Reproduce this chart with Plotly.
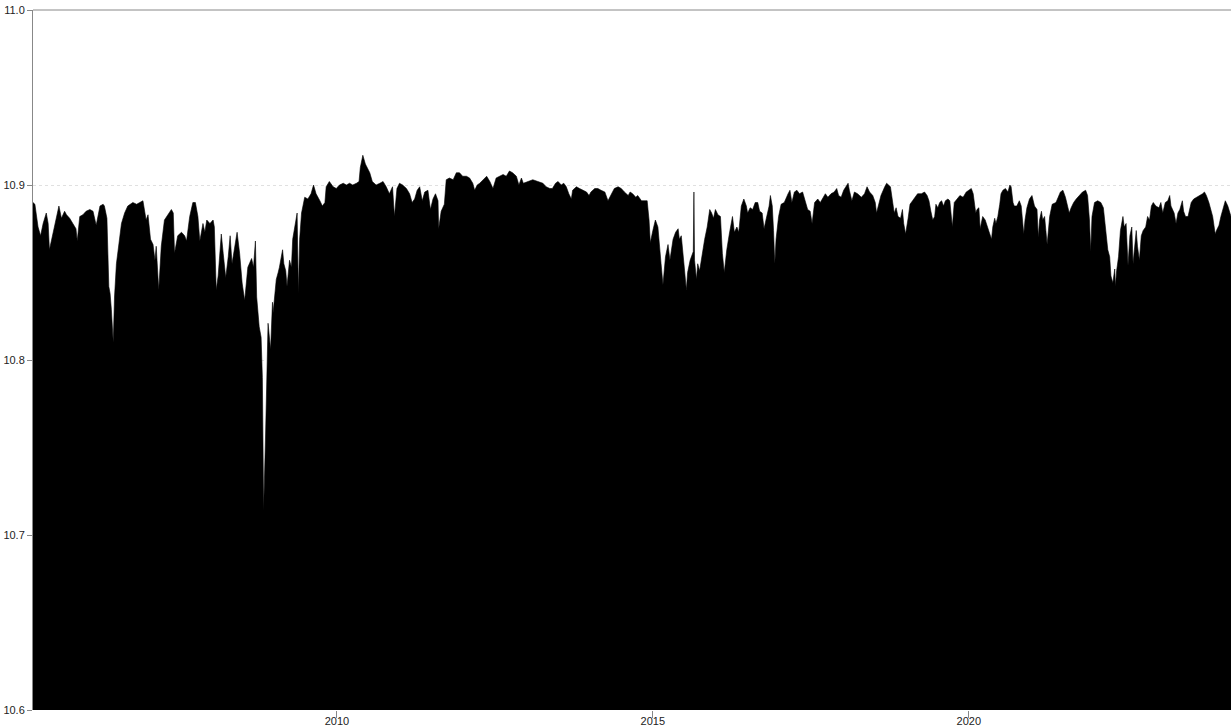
import plotly.graph_objects as go

# decimal-year positions and values
years_a = [2005.19, 2005.22, 2005.27, 2005.31, 2005.35, 2005.40, 2005.43, 2005.45, 2005.51, 2005.56,
           2005.60, 2005.64, 2005.69, 2005.72, 2005.77, 2005.82, 2005.87, 2005.89, 2005.93, 2005.98,
           2006.03, 2006.09, 2006.14, 2006.19, 2006.25, 2006.30, 2006.32, 2006.36, 2006.39, 2006.41,
           2006.43, 2006.46, 2006.48, 2006.51, 2006.55, 2006.59, 2006.64, 2006.69, 2006.77, 2006.83,
           2006.88, 2006.93, 2006.98, 2007.01, 2007.05, 2007.09, 2007.12, 2007.14, 2007.18, 2007.22,
           2007.27, 2007.33, 2007.38, 2007.41, 2007.43, 2007.48, 2007.54, 2007.59, 2007.62, 2007.67,
           2007.72, 2007.76, 2007.80, 2007.83, 2007.88, 2007.91, 2007.94, 2007.99, 2008.04, 2008.06,
           2008.09, 2008.12, 2008.17, 2008.20, 2008.24, 2008.28, 2008.31, 2008.34, 2008.38, 2008.42,
           2008.46, 2008.50, 2008.54, 2008.59, 2008.65, 2008.68, 2008.71, 2008.73, 2008.77, 2008.80,
           2008.82, 2008.84, 2008.87, 2008.91, 2008.95, 2008.98]
values_a = [10.890, 10.889, 10.876, 10.871, 10.878, 10.884, 10.878, 10.863, 10.873, 10.882,
            10.888, 10.881, 10.885, 10.883, 10.881, 10.878, 10.875, 10.868, 10.882, 10.883,
            10.885, 10.886, 10.885, 10.877, 10.888, 10.889, 10.888, 10.881, 10.842, 10.838,
            10.829, 10.810, 10.836, 10.855, 10.865, 10.878, 10.884, 10.888, 10.890, 10.889,
            10.890, 10.891, 10.880, 10.883, 10.869, 10.866, 10.857, 10.865, 10.840, 10.865,
            10.880, 10.883, 10.886, 10.884, 10.861, 10.871, 10.873, 10.871, 10.868, 10.882,
            10.890, 10.890, 10.882, 10.868, 10.878, 10.873, 10.880, 10.878, 10.880, 10.876,
            10.840, 10.848, 10.872, 10.861, 10.847, 10.859, 10.871, 10.855, 10.865, 10.873,
            10.861, 10.844, 10.834, 10.853, 10.858, 10.853, 10.868, 10.836, 10.819, 10.813,
            10.790, 10.714, 10.756, 10.821, 10.806, 10.833]

years_b = [2008.99, 2009.01, 2009.04, 2009.07, 2009.09, 2009.14, 2009.16, 2009.19, 2009.21, 2009.25,
           2009.28, 2009.30, 2009.33, 2009.37, 2009.39, 2009.41, 2009.44, 2009.49, 2009.54, 2009.59,
           2009.63, 2009.67, 2009.73, 2009.77, 2009.81, 2009.83, 2009.88, 2009.94, 2009.99, 2010.04,
           2010.10, 2010.15, 2010.20, 2010.25, 2010.31, 2010.35, 2010.37, 2010.41, 2010.45, 2010.52,
           2010.56, 2010.62, 2010.68, 2010.73, 2010.78, 2010.83, 2010.88, 2010.91, 2010.95, 2010.99,
           2011.04, 2011.10, 2011.15, 2011.19, 2011.23, 2011.27, 2011.31, 2011.35, 2011.39, 2011.44,
           2011.48, 2011.52, 2011.56, 2011.60, 2011.61, 2011.65, 2011.70, 2011.73, 2011.78, 2011.84,
           2011.89, 2011.94, 2011.99, 2012.05, 2012.10, 2012.15, 2012.18, 2012.22, 2012.26, 2012.31,
           2012.37, 2012.42, 2012.47, 2012.52, 2012.57, 2012.63, 2012.68, 2012.73, 2012.78]
values_b = [10.827, 10.834, 10.846, 10.850, 10.853, 10.863, 10.855, 10.851, 10.842, 10.857,
            10.853, 10.869, 10.876, 10.884, 10.838, 10.869, 10.884, 10.893, 10.892, 10.895,
            10.900, 10.895, 10.891, 10.888, 10.890, 10.899, 10.902, 10.899, 10.898, 10.900,
            10.901, 10.900, 10.901, 10.900, 10.901, 10.902, 10.910, 10.917, 10.912, 10.907,
            10.902, 10.900, 10.901, 10.902, 10.899, 10.895, 10.899, 10.882, 10.898, 10.901,
            10.900, 10.898, 10.895, 10.890, 10.892, 10.897, 10.899, 10.891, 10.896, 10.897,
            10.886, 10.892, 10.895, 10.891, 10.875, 10.885, 10.889, 10.903, 10.904, 10.903,
            10.907, 10.907, 10.905, 10.905, 10.904, 10.901, 10.897, 10.900, 10.901, 10.903,
            10.905, 10.902, 10.898, 10.904, 10.905, 10.906, 10.905, 10.908, 10.907]

years_c = [2012.84, 2012.88, 2012.92, 2012.95, 2013.02, 2013.10, 2013.18, 2013.26, 2013.31, 2013.37,
           2013.41, 2013.46, 2013.50, 2013.55, 2013.59, 2013.63, 2013.67, 2013.71, 2013.73, 2013.79,
           2013.84, 2013.89, 2013.95, 2013.99, 2014.02, 2014.08, 2014.13, 2014.18, 2014.24, 2014.29,
           2014.34, 2014.39, 2014.45, 2014.50, 2014.55, 2014.61, 2014.64, 2014.68, 2014.73, 2014.76,
           2014.82, 2014.87, 2014.91, 2014.94, 2014.96, 2015.00, 2015.04, 2015.08, 2015.11, 2015.13,
           2015.16, 2015.20, 2015.24, 2015.27, 2015.32, 2015.36, 2015.40, 2015.42, 2015.45, 2015.48,
           2015.50, 2015.53, 2015.55, 2015.59, 2015.64, 2015.65, 2015.66, 2015.69, 2015.71, 2015.74,
           2015.78, 2015.82, 2015.86, 2015.90, 2015.93, 2015.96, 2015.99, 2016.03, 2016.07, 2016.10,
           2016.13, 2016.17, 2016.21, 2016.26, 2016.29, 2016.33, 2016.36, 2016.40, 2016.44, 2016.48,
           2016.50, 2016.54, 2016.58]
values_c = [10.905, 10.900, 10.904, 10.901, 10.902, 10.903, 10.902, 10.901, 10.899, 10.898,
            10.898, 10.901, 10.902, 10.900, 10.901, 10.899, 10.895, 10.892, 10.897, 10.899,
            10.898, 10.897, 10.896, 10.894, 10.896, 10.898, 10.898, 10.897, 10.896, 10.891,
            10.895, 10.898, 10.899, 10.898, 10.896, 10.894, 10.896, 10.895, 10.893, 10.894,
            10.891, 10.891, 10.891, 10.880, 10.867, 10.874, 10.880, 10.876, 10.860, 10.855,
            10.843, 10.859, 10.866, 10.857, 10.869, 10.873, 10.875, 10.869, 10.871, 10.857,
            10.852, 10.840, 10.850, 10.857, 10.862, 10.896, 10.857, 10.846, 10.855, 10.851,
            10.861, 10.869, 10.876, 10.886, 10.884, 10.881, 10.886, 10.883, 10.882, 10.861,
            10.850, 10.863, 10.872, 10.882, 10.873, 10.876, 10.873, 10.888, 10.892, 10.888,
            10.884, 10.887, 10.886]

years_d = [2016.62, 2016.66, 2016.69, 2016.73, 2016.76, 2016.79, 2016.84, 2016.86, 2016.89, 2016.91,
           2016.93, 2016.95, 2016.99, 2017.03, 2017.08, 2017.14, 2017.17, 2017.20, 2017.24, 2017.28,
           2017.32, 2017.37, 2017.42, 2017.45, 2017.49, 2017.52, 2017.56, 2017.61, 2017.65, 2017.70,
           2017.73, 2017.77, 2017.82, 2017.87, 2017.91, 2017.94, 2017.98, 2018.02, 2018.06, 2018.09,
           2018.11, 2018.15, 2018.19, 2018.24, 2018.30, 2018.35, 2018.39, 2018.43, 2018.48, 2018.52,
           2018.54, 2018.58, 2018.61, 2018.67, 2018.70, 2018.76, 2018.79, 2018.82, 2018.85, 2018.88,
           2018.92, 2018.95, 2018.97, 2019.00, 2019.04, 2019.07, 2019.11, 2019.15, 2019.19, 2019.25,
           2019.30, 2019.34, 2019.37, 2019.40, 2019.43, 2019.46, 2019.48, 2019.51, 2019.54, 2019.57,
           2019.60, 2019.63, 2019.67, 2019.70, 2019.74, 2019.77, 2019.81, 2019.86, 2019.91, 2019.96,
           2020.00, 2020.04, 2020.07, 2020.11, 2020.13, 2020.16, 2020.18, 2020.22, 2020.26, 2020.30,
           2020.34, 2020.36]
values_d = [10.890, 10.890, 10.885, 10.884, 10.875, 10.880, 10.888, 10.894, 10.888, 10.874,
            10.855, 10.869, 10.882, 10.889, 10.890, 10.895, 10.897, 10.890, 10.896, 10.897,
            10.895, 10.896, 10.889, 10.886, 10.885, 10.878, 10.890, 10.892, 10.890, 10.893,
            10.895, 10.893, 10.895, 10.896, 10.898, 10.894, 10.893, 10.897, 10.899, 10.901,
            10.897, 10.891, 10.896, 10.895, 10.893, 10.895, 10.899, 10.896, 10.894, 10.890,
            10.884, 10.890, 10.894, 10.899, 10.901, 10.899, 10.890, 10.884, 10.887, 10.882,
            10.881, 10.886, 10.878, 10.872, 10.881, 10.889, 10.891, 10.893, 10.895, 10.895,
            10.896, 10.894, 10.891, 10.885, 10.880, 10.882, 10.889, 10.887, 10.890, 10.891,
            10.888, 10.891, 10.892, 10.891, 10.876, 10.890, 10.892, 10.894, 10.893, 10.896,
            10.897, 10.898, 10.895, 10.884, 10.886, 10.887, 10.875, 10.882, 10.880, 10.876,
            10.871, 10.869]

years_e = [2020.38, 2020.41, 2020.43, 2020.46, 2020.49, 2020.51, 2020.54, 2020.58, 2020.62, 2020.65,
           2020.67, 2020.70, 2020.72, 2020.76, 2020.80, 2020.83, 2020.87, 2020.89, 2020.92, 2020.96,
           2021.00, 2021.04, 2021.08, 2021.10, 2021.12, 2021.15, 2021.17, 2021.20, 2021.22, 2021.24,
           2021.28, 2021.32, 2021.38, 2021.42, 2021.45, 2021.49, 2021.53, 2021.57, 2021.59, 2021.62,
           2021.66, 2021.70, 2021.75, 2021.80, 2021.85, 2021.88, 2021.91, 2021.93, 2021.95, 2021.99,
           2022.04, 2022.09, 2022.13, 2022.16, 2022.20, 2022.23, 2022.25, 2022.28, 2022.31, 2022.32,
           2022.34, 2022.37, 2022.40, 2022.44, 2022.46, 2022.49, 2022.52, 2022.55, 2022.58, 2022.60,
           2022.62, 2022.65, 2022.67, 2022.70, 2022.73, 2022.76, 2022.80, 2022.83, 2022.86, 2022.89,
           2022.92, 2022.96, 2023.01, 2023.04, 2023.07, 2023.11, 2023.15, 2023.18, 2023.20, 2023.23,
           2023.25, 2023.28, 2023.31, 2023.34, 2023.38, 2023.40, 2023.43, 2023.47, 2023.52, 2023.56,
           2023.61, 2023.66, 2023.70, 2023.73, 2023.76, 2023.80, 2023.84, 2023.86, 2023.88, 2023.90,
           2023.92, 2023.96, 2023.99, 2024.03, 2024.06, 2024.10, 2024.14, 2024.15]
values_e = [10.876, 10.881, 10.878, 10.882, 10.889, 10.895, 10.897, 10.898, 10.896, 10.900,
            10.899, 10.890, 10.888, 10.888, 10.891, 10.888, 10.872, 10.880, 10.887, 10.892,
            10.894, 10.888, 10.886, 10.870, 10.880, 10.885, 10.880, 10.882, 10.874, 10.866,
            10.882, 10.889, 10.890, 10.893, 10.896, 10.897, 10.893, 10.887, 10.884, 10.887,
            10.890, 10.892, 10.894, 10.896, 10.897, 10.894, 10.880, 10.862, 10.882, 10.890,
            10.891, 10.890, 10.887, 10.878, 10.863, 10.859, 10.848, 10.844, 10.852, 10.842,
            10.851, 10.859, 10.874, 10.882, 10.876, 10.878, 10.854, 10.871, 10.876, 10.855,
            10.865, 10.874, 10.865, 10.857, 10.871, 10.874, 10.876, 10.882, 10.880, 10.888,
            10.890, 10.888, 10.887, 10.890, 10.884, 10.890, 10.891, 10.894, 10.888, 10.885,
            10.884, 10.878, 10.884, 10.886, 10.891, 10.885, 10.882, 10.882, 10.890, 10.892,
            10.893, 10.894, 10.895, 10.896, 10.894, 10.890, 10.885, 10.882, 10.877, 10.872,
            10.874, 10.877, 10.882, 10.888, 10.891, 10.888, 10.882, 10.882]

years = years_a + years_b + years_c + years_d + years_e
values = values_a + values_b + values_c + values_d + values_e

x_ticks = [2010, 2015, 2020]
x_tick_labels = ["2010", "2015", "2020"]
y_ticks = [10.6, 10.7, 10.8, 10.9, 11.0]
y_tick_labels = ["10.6", "10.7", "10.8", "10.9", "11.0"]

fig = go.Figure()
fig.add_trace(go.Scatter(
    x=years, y=values, mode="lines", fill="tozeroy",
    fillcolor="#000000", line=dict(color="#000000", width=0.6),
    hoverinfo="x+y", showlegend=False,
))

axis_font = dict(family="Liberation Sans, Arial, sans-serif", size=11, color="#222222")

fig.update_layout(
    width=1231, height=727,
    margin=dict(l=33, r=0, t=10, b=17, autoexpand=False),
    paper_bgcolor="white", plot_bgcolor="white",
    showlegend=False,
    xaxis=dict(
        range=[2005.19, 2024.15], tickmode="array", tickvals=x_ticks, ticktext=x_tick_labels,
        showgrid=False, zeroline=False, showline=False, automargin=False,
        ticks="outside", ticklen=7, tickcolor="#888888", tickwidth=1,
        ticklabelstandoff=-6,
        tickfont=axis_font,
    ),
    yaxis=dict(
        range=[10.6, 11.0], tickmode="array", tickvals=y_ticks, ticktext=y_tick_labels,
        showgrid=True, gridcolor="#e0e0e0", griddash="dot", gridwidth=1,
        zeroline=False, showline=True, linecolor="#888888", linewidth=1, automargin=False,
        ticks="outside", ticklen=5, tickcolor="#888888", tickwidth=1,
        tickfont=axis_font,
    ),
    shapes=[dict(type="line", xref="paper", yref="paper", x0=0, x1=1, y0=1, y1=1,
                 line=dict(color="#888888", width=1))],
)

fig.write_html("out.html", config={"displayModeBar": False},
               post_script="document.body.style.margin='0';")
